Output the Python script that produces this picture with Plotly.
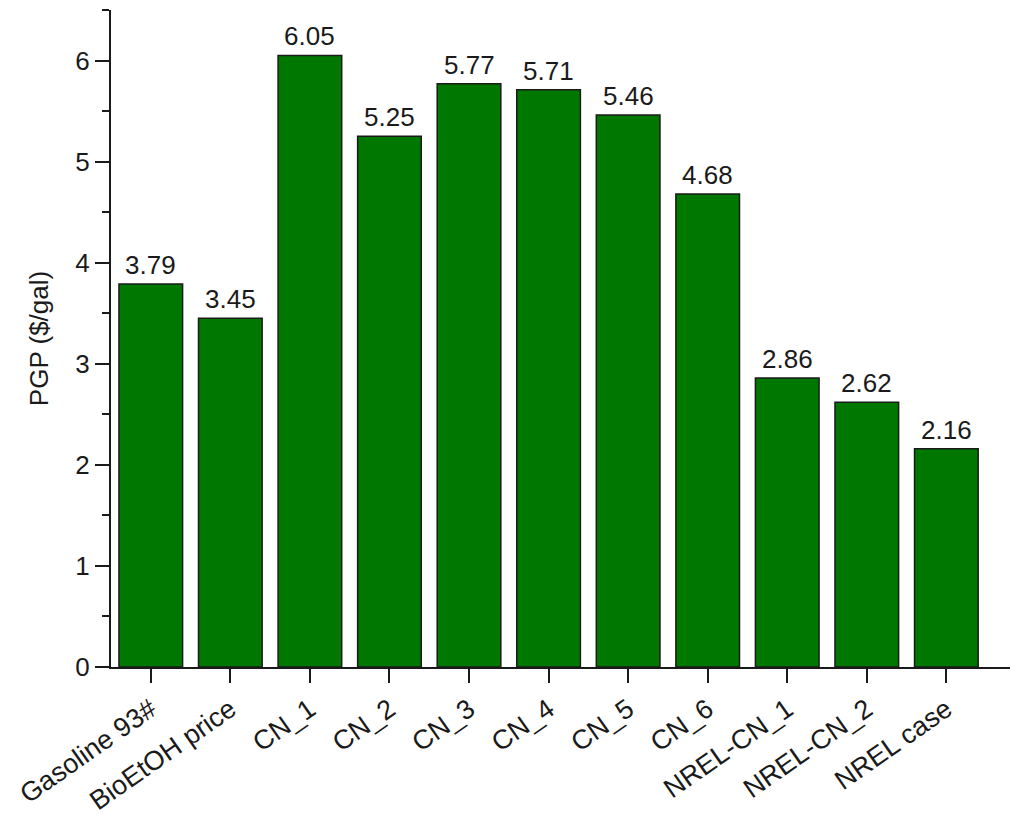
import plotly.graph_objects as go

CATEGORIES = ["Gasoline 93#", "BioEtOH price", "CN_1", "CN_2", "CN_3", "CN_4",
              "CN_5", "CN_6", "NREL-CN_1", "NREL-CN_2", "NREL case"]
PGP_VALUES = [3.79, 3.45, 6.05, 5.25, 5.77, 5.71, 5.46, 4.68, 2.86, 2.62, 2.16]
Y_TICKS = [0, 1, 2, 3, 4, 5, 6]

BAR_COLOR = "#007800"
LINE_COLOR = "#1a1a1a"
FONT_FAMILY = "Liberation Sans, Arial, sans-serif"

fig = go.Figure()

fig.add_trace(go.Bar(
    x=list(range(len(CATEGORIES))),
    y=PGP_VALUES,
    width=0.8,
    marker=dict(color=BAR_COLOR, line=dict(color=LINE_COLOR, width=1.5)),
))

# value labels a little above each bar
for i, v in enumerate(PGP_VALUES):
    fig.add_annotation(x=i, y=v, text="{:.2f}".format(v),
                       xref="x", yref="y",
                       yanchor="bottom", yshift=2,
                       showarrow=False,
                       font=dict(size=26, color="#1a1a1a", family=FONT_FAMILY))

# page body adds an 8px offset, so margins are shifted to compensate
fig.update_layout(
    width=1024,
    height=819,
    showlegend=False,
    plot_bgcolor="white",
    paper_bgcolor="white",
    margin=dict(l=103, r=22, t=2, b=160),
    font=dict(family=FONT_FAMILY, size=26, color="#1a1a1a"),
    xaxis=dict(
        range=[-0.5, 10.8],
        tickmode="array",
        tickvals=list(range(len(CATEGORIES))),
        ticktext=CATEGORIES,
        tickangle=-35,
        ticks="outside",
        ticklen=14,
        tickwidth=2,
        tickcolor=LINE_COLOR,
        showline=True,
        linecolor=LINE_COLOR,
        linewidth=2,
        showgrid=False,
        zeroline=False,
        automargin=False,
        tickfont=dict(size=27),
    ),
    yaxis=dict(
        range=[0, 6.5],
        tickvals=Y_TICKS,
        ticks="outside",
        ticklen=14,
        tickwidth=2,
        tickcolor=LINE_COLOR,
        minor=dict(dtick=0.5, ticks="outside", ticklen=7, tickwidth=2, tickcolor=LINE_COLOR),
        showline=True,
        linecolor=LINE_COLOR,
        linewidth=2,
        showgrid=False,
        zeroline=False,
        automargin=False,
        tickfont=dict(size=26),
        title=dict(text="PGP ($/gal)", font=dict(size=26), standoff=19),
    ),
)

fig.write_html("out.html")
